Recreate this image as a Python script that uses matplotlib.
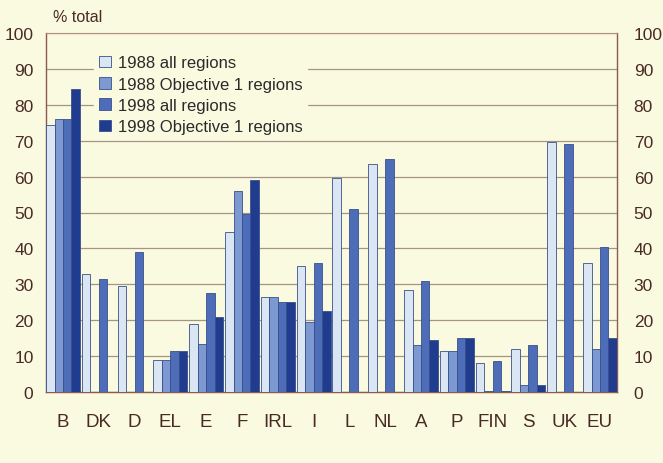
import matplotlib
matplotlib.use("Agg")
import matplotlib.pyplot as plt
import numpy as np

plt.rcParams["font.family"] = ["Liberation Sans", "DejaVu Sans"]

categories = ["B", "DK", "D", "EL", "E", "F", "IRL", "I", "L", "NL", "A", "P", "FIN", "S", "UK", "EU"]
series_names = ["1988 all regions", "1988 Objective 1 regions", "1998 all regions", "1998 Objective 1 regions"]
all_1988 = [74.5, 33, 29.5, 9, 19, 44.5, 26.5, 35, 59.5, 63.5, 28.5, 11.5, 8, 12, 69.5, 36]
obj1_1988 = [76, 0, 0, 9, 13.5, 56, 26.5, 19.5, 0, 0, 13, 11.5, 0.3, 2, 0, 12]
all_1998 = [76, 31.5, 39, 11.5, 27.5, 49.5, 25, 36, 51, 65, 31, 15, 8.5, 13, 69, 40.5]
obj1_1998 = [84.5, 0, 0, 11.5, 21, 59, 25, 22.5, 0, 0, 14.5, 15, 0.3, 2, 0, 15]
yticks = [0, 10, 20, 30, 40, 50, 60, 70, 80, 90, 100]

colors = ["#dbe6f5", "#7d99d2", "#4d6db8", "#1f3c8e"]
bg = "#fafae0"
txt = "#4a2a24"
spine = "#8a5a50"

fig = plt.figure(figsize=(6.63, 4.64), dpi=100)
fig.patch.set_facecolor(bg)
ax = fig.add_axes([46/663, 1-393/464, (617-46)/663, (393-34)/464])
ax.set_facecolor(bg)

x = np.arange(len(categories))
w = 0.237
data = [all_1988, obj1_1988, all_1998, obj1_1998]
for i, (vals, c, name) in enumerate(zip(data, colors, series_names)):
    ax.bar(x + (i - 1.5) * w, vals, width=w, color=c, edgecolor="#3a4f8a", linewidth=0.6, label=name, zorder=3)

ax.set_xlim(-0.475, 15.475)
ax.set_ylim(0, 100)
ax.set_yticks(yticks)
ax.set_xticks(x)
ax.set_xticklabels(categories)
ax.grid(axis="y", color="#a49488", linewidth=0.9, zorder=0)
ax.tick_params(axis="both", length=0, labelsize=12.5, colors=txt)
ax.tick_params(axis="x", pad=15, labelsize=13.5)
ax.tick_params(axis="y", pad=9)

for s in ["left", "right", "bottom"]:
    ax.spines[s].set_color(spine)
    ax.spines[s].set_linewidth(1.0)
ax.spines["top"].set_color("#b09080")
ax.spines["top"].set_linewidth(0.8)

ax2 = ax.twinx()
ax2.set_ylim(0, 100)
ax2.set_yticks(yticks)
ax2.tick_params(axis="y", length=0, labelsize=12.5, colors=txt, pad=12)
for s in ax2.spines.values():
    s.set_visible(False)

ax.text(0.012, 1.025, "% total", transform=ax.transAxes, fontsize=11.5, color=txt, ha="left", va="bottom")

leg = ax.legend(loc="upper left", bbox_to_anchor=(0.07, 0.975), frameon=True, fontsize=12,
                handlelength=0.7, handleheight=0.7, handletextpad=0.4, labelspacing=0.38,
                borderpad=0.3, facecolor=bg, edgecolor=bg, framealpha=1.0)
for t in leg.get_texts():
    t.set_color("#2a2a2a")
leg.set_zorder(5)

fig.savefig("out.png", dpi=100, facecolor=bg)
